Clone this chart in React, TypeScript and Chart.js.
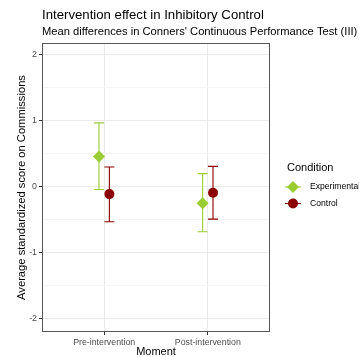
import React, { useEffect, useRef } from "react";
import { Chart, registerables } from "chart.js";

Chart.register(...registerables);

const categories = ["Pre-intervention", "Post-intervention"];
const seriesNames = ["Experimental", "Control"];
const experimentalMean = [0.46, -0.25];
const experimentalLower = [-0.04, -0.68];
const experimentalUpper = [0.97, 0.2];
const controlMean = [-0.11, -0.09];
const controlLower = [-0.53, -0.49];
const controlUpper = [0.3, 0.31];
const yTickValues = [-2, -1.5, -1, -0.5, 0, 0.5, 1, 1.5, 2];
const titleText = "Intervention effect in Inhibitory Control";
const subtitleText = "Mean differences in Conners' Continuous Performance Test (III)";
const legendTitle = "Condition";

const GREEN = "#9ACD32";
const RED = "#8B0000";
const FONT = "'Liberation Sans', Arial, sans-serif";
const DODGE = 0.05;

const series = [
  { name: seriesNames[0], mean: experimentalMean, lo: experimentalLower, hi: experimentalUpper, color: GREEN, style: "rectRot", r: 6, off: -DODGE },
  { name: seriesNames[1], mean: controlMean, lo: controlLower, hi: controlUpper, color: RED, style: "circle", r: 5, off: DODGE },
];

export default function App() {
  const ref = useRef<HTMLCanvasElement | null>(null);
  useEffect(() => {
    if (!ref.current) return;
    const errorBars = {
      id: "errorBars",
      beforeDatasetsDraw(chart: any) {
        const { ctx } = chart;
        const xs = chart.scales.x;
        const ys = chart.scales.y;
        ctx.save();
        series.forEach((s) => {
          ctx.strokeStyle = s.color;
          ctx.lineWidth = 1.1;
          s.mean.forEach((_, i) => {
            const x = xs.getPixelForValue(i + 1 + s.off);
            const y1 = ys.getPixelForValue(s.lo[i]);
            const y2 = ys.getPixelForValue(s.hi[i]);
            const cw = 5;
            ctx.beginPath();
            ctx.moveTo(x, y1);
            ctx.lineTo(x, y2);
            ctx.moveTo(x - cw, y1);
            ctx.lineTo(x + cw, y1);
            ctx.moveTo(x - cw, y2);
            ctx.lineTo(x + cw, y2);
            ctx.stroke();
          });
        });
        ctx.restore();
      },
      afterDatasetsDraw(chart: any) {
        const { ctx, chartArea: a } = chart;
        ctx.save();
        ctx.strokeStyle = "#555555";
        ctx.lineWidth = 1;
        ctx.strokeRect(Math.round(a.left) + 0.5, Math.round(a.top) + 0.5, Math.round(a.right - a.left) - 1, Math.round(a.bottom - a.top) - 1);
        ctx.restore();
      },
      afterDraw(chart: any) {
        const { ctx } = chart;
        ctx.save();
        ctx.fillStyle = "#000";
        ctx.textBaseline = "alphabetic";
        ctx.textAlign = "left";
        ctx.font = `13.2px ${FONT}`;
        ctx.fillText(titleText, 42, 18.5);
        ctx.font = `11.2px ${FONT}`;
        ctx.fillText(subtitleText, 42, 35);
        // legend
        ctx.font = `11px ${FONT}`;
        ctx.fillText(legendTitle, 287, 171);
        const ys = [187, 203.5];
        series.forEach((s, i) => {
          const cx = 293;
          const cy = ys[i];
          ctx.strokeStyle = s.color;
          ctx.lineWidth = 1.1;
          ctx.beginPath();
          ctx.moveTo(285, cy);
          ctx.lineTo(301, cy);
          ctx.stroke();
          ctx.fillStyle = s.color;
          ctx.beginPath();
          if (s.style === "circle") {
            ctx.arc(cx, cy, 5, 0, Math.PI * 2);
          } else {
            ctx.moveTo(cx - 6, cy);
            ctx.lineTo(cx, cy - 6);
            ctx.lineTo(cx + 6, cy);
            ctx.lineTo(cx, cy + 6);
            ctx.closePath();
          }
          ctx.fill();
          ctx.fillStyle = "#000";
          ctx.font = `8.6px ${FONT}`;
          ctx.textBaseline = "middle";
          ctx.fillText(s.name, 310, cy);
        });
        ctx.restore();
      },
    };

    const chart = new Chart(ref.current, {
      type: "scatter",
      data: {
        datasets: series.map((s) => ({
          label: s.name,
          data: s.mean.map((v, i) => ({ x: i + 1 + s.off, y: v })),
          backgroundColor: s.color,
          borderColor: s.color,
          borderWidth: 0,
          pointStyle: s.style as any,
          pointRadius: s.r,
          pointHoverRadius: s.r,
        })),
      },
      options: {
        animation: false,
        responsive: false,
        events: [],
        layout: { padding: { top: 43, right: 89, left: 0, bottom: 0 } },
        plugins: { legend: { display: false }, title: { display: false }, tooltip: { enabled: false } },
        scales: {
          x: {
            type: "linear",
            min: 0.4,
            max: 2.6,
            afterBuildTicks: (s: any) => {
              s.ticks = categories.map((_, i) => ({ value: i + 1 }));
            },
            afterFit: (s: any) => {
              s.height = 25;
            },
            ticks: {
              autoSkip: false,
              maxRotation: 0,
              padding: 2,
              color: "#4D4D4D",
              font: { family: FONT, size: 8.8 },
              callback: (v: any) => categories[Math.round(v) - 1] ?? "",
            },
            grid: { color: "#EBEBEB", tickColor: "#333333", tickLength: 3, lineWidth: 1 },
            border: { display: false },
            title: {
              display: true,
              text: "Moment",
              color: "#000",
              font: { family: FONT, size: 11, lineHeight: 1 },
              padding: { top: 0, bottom: 0 },
            },
          },
          y: {
            type: "linear",
            min: -2.2,
            max: 2.18,
            afterBuildTicks: (s: any) => {
              s.ticks = yTickValues.map((v) => ({ value: v }));
            },
            afterFit: (s: any) => {
              s.width = 42;
            },
            ticks: {
              autoSkip: false,
              padding: 2,
              color: "#4D4D4D",
              font: { family: FONT, size: 8.8 },
              callback: (v: any) => (Number.isInteger(v) ? String(v) : ""),
            },
            grid: {
              color: (c: any) => (Number.isInteger(c.tick?.value) ? "#EBEBEB" : "#F5F5F5"),
              tickColor: (c: any) => (Number.isInteger(c.tick?.value) ? "#333333" : "rgba(0,0,0,0)"),
              tickLength: 3,
              lineWidth: 1,
            },
            border: { display: false },
            title: {
              display: true,
              text: "Average standardized score on Commissions",
              color: "#000",
              font: { family: FONT, size: 11.2, lineHeight: 1 },
              padding: { top: 16, bottom: 0 },
            },
          },
        },
      },
      plugins: [errorBars],
    });
    return () => chart.destroy();
  }, []);
  return (
    <div style={{ position: "fixed", left: 0, top: 0, width: 359, height: 357, background: "#fff" }}>
      <canvas ref={ref} width={359} height={357} style={{ width: 359, height: 357, display: "block" }} />
    </div>
  );
}
